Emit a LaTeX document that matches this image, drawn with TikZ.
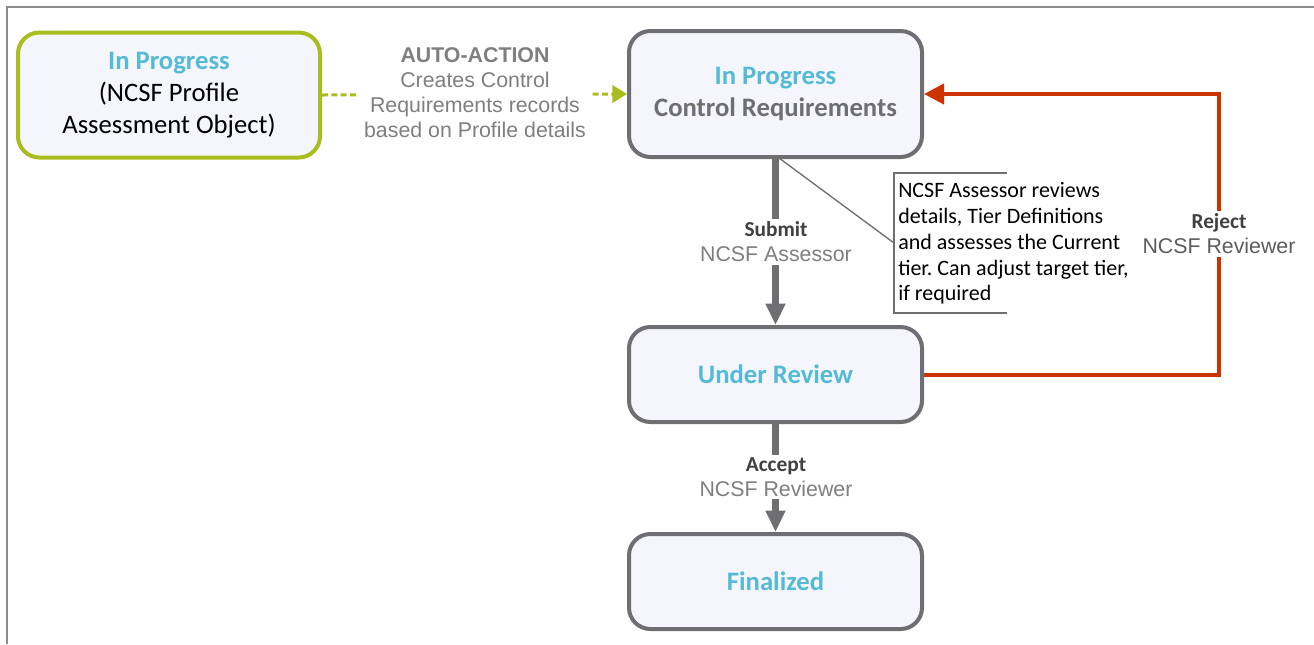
\documentclass[tikz,border=0pt]{standalone}
\usepackage{fontspec}
\setmainfont{Carlito}
\newfontfamily\arialf{Liberation Sans}
\usetikzlibrary{arrows.meta}
\definecolor{boxgray}{HTML}{6E6E73}
\definecolor{boxfill}{HTML}{F5F6FD}
\definecolor{titlecyan}{HTML}{55BAD5}
\definecolor{limegreen}{HTML}{A9BD1E}
\definecolor{rejectred}{HTML}{CC3300}
\definecolor{labelgray}{HTML}{7F7F7F}
\definecolor{labeldark}{HTML}{404040}
\definecolor{framegray}{HTML}{8C8C8C}
\newcommand\statetitle[1]{{\bfseries\color{titlecyan}#1}}
\frenchspacing
\begin{document}
\begin{tikzpicture}[x=0.75pt,y=-0.75pt,
  statebox/.style={draw=boxgray, line width=3pt, fill=boxfill, rounded corners=16pt,
    align=center, inner sep=0pt, font=\fontsize{20}{24}\selectfont},
  flowarrow/.style={draw=boxgray, line width=5.25pt, -{Triangle[length=16pt,width=14pt]}},
  autoarrow/.style={draw=limegreen, line width=2.25pt, dash pattern=on 4.5pt off 2.5pt,
    -{Triangle[length=11pt,width=13pt]}},
  rejectline/.style={draw=rejectred, line width=3pt, -{Triangle[length=15pt,width=15pt]}},
  actlabel/.style={fill=white, align=center, inner sep=2pt, text=labelgray,
    font=\arialf\fontsize{16}{18.8}\selectfont},
  calloutline/.style={draw=boxgray, line width=1pt},
  callouttext/.style={align=left, inner sep=0pt, text=black, font=\fontsize{16.5}{19.3}\selectfont},
  frameline/.style={draw=framegray, line width=1.5pt}
]
\useasboundingbox (0,0) rectangle (1314,644);
% frame
\coordinate (frbl) at (7,644);
\coordinate (frtl) at (7,7);
\coordinate (frtr) at (1314,7);
\draw[frameline] (frbl) -- (frtl) -- (frtr);

% states
\node[statebox, draw=limegreen, minimum width=226.5pt, minimum height=93.75pt] (A) at (169,95)
  {\statetitle{In Progress}\\(NCSF Profile\\Assessment Object)};
\node[statebox, minimum width=219.75pt, minimum height=94.5pt] (B) at (775.5,94)
  {\statetitle{In Progress}\\{\bfseries\color{boxgray}Control Requirements}};
\node[statebox, minimum width=219.75pt, minimum height=71.25pt] (C) at (775.5,374.5)
  {\statetitle{Under Review}};
\node[statebox, minimum width=219.75pt, minimum height=71.25pt] (D) at (775.5,581.5)
  {\statetitle{Finalized}};

% auto action
\draw[autoarrow] (A.east) -- (B.west);
\node[actlabel, inner sep=4pt] (autolbl) at (475,92.5)
  {{\bfseries AUTO-ACTION}\\Creates Control\\Requirements records\\based on Profile details};

% submit
\draw[flowarrow] (B.south) -- (C.north);
\node[actlabel] (submitlbl) at (776,242)
  {{\normalfont\fontsize{16}{18.8}\selectfont\bfseries\color{labeldark}Submit}\\NCSF Assessor};

% accept
\draw[flowarrow] (C.south) -- (D.north);
\node[actlabel] (acceptlbl) at (776,477)
  {{\normalfont\fontsize{16}{18.8}\selectfont\bfseries\color{labeldark}Accept}\\NCSF Reviewer};

% reject
\coordinate (rjtop) at (1219,94);
\draw[rejectline] (C.east) -| (rjtop) -- (B.east);
\node[actlabel] (rejectlbl) at (1219,234)
  {{\normalfont\fontsize{16}{18.8}\selectfont\bfseries\color{labeldark}Reject}\\{\color{labeldark!85}NCSF Reviewer}};

% callout
\coordinate (leadstart) at (779,158);
\coordinate (cotl) at (894,173);
\coordinate (cotr) at (1007,173);
\coordinate (cobl) at (894,313);
\coordinate (cobr) at (1007,313);
\coordinate (coleft) at (894,243);
\draw[calloutline] (cotr) -- (cotl) -- (cobl) -- (cobr);
\draw[calloutline] (leadstart) -- (coleft);
\node[callouttext, anchor=west] (callout) at (898,243.5)
  {NCSF Assessor reviews\\details, Tier Definitions\\and assesses the Current\\tier. Can adjust target tier,\\if required};
\end{tikzpicture}
\end{document}
